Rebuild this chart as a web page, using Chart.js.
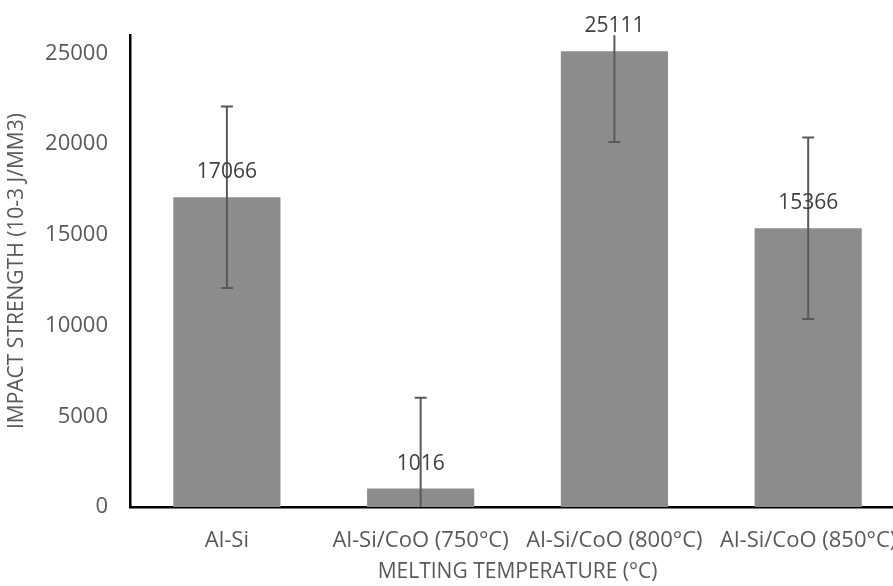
<!DOCTYPE html>
<html>
<head>
<meta charset="utf-8">
<script src="https://cdn.jsdelivr.net/npm/chart.js@4.4.1/dist/chart.umd.min.js"></script>
<style>
  html, body { margin: 0; padding: 0; background: #fff; overflow: hidden; }
  #wrap { width: 918px; height: 586px; }
</style>
</head>
<body>
<div id="wrap"><canvas id="chart"></canvas></div>
<script>
const categories = ["Al-Si", "Al-Si/CoO (750°C)", "Al-Si/CoO (800°C)", "Al-Si/CoO (850°C)"]
const strength = [17066, 1016, 25111, 15366]
const errors = [5000, 5000, 5000, 5000]
const yTicks = [0, 5000, 10000, 15000, 20000, 25000]

const FONT = "'Open Sans', sans-serif"
const TEXT = "#595959"

const errorBars = {
  id: "errorBars",
  afterDatasetsDraw(chart) {
    const { ctx, chartArea, scales } = chart
    const meta = chart.getDatasetMeta(0)
    ctx.save()
    ctx.beginPath()
    ctx.rect(chartArea.left, chartArea.top, chartArea.right - chartArea.left, chartArea.bottom - chartArea.top)
    ctx.clip()
    ctx.strokeStyle = "#595959"
    ctx.lineWidth = 2
    meta.data.forEach((bar, i) => {
      const x = bar.x
      const hi = scales.y.getPixelForValue(strength[i] + errors[i])
      const lo = scales.y.getPixelForValue(strength[i] - errors[i])
      ctx.beginPath()
      ctx.moveTo(x, hi); ctx.lineTo(x, lo)
      ctx.moveTo(x - 6, hi); ctx.lineTo(x + 6, hi)
      ctx.moveTo(x - 6, lo); ctx.lineTo(x + 6, lo)
      ctx.stroke()
    })
    ctx.restore()

    ctx.save()
    ctx.fillStyle = "#404040"
    ctx.font = "21px " + FONT
    ctx.textAlign = "center"
    ctx.textBaseline = "middle"
    meta.data.forEach((bar, i) => {
      ctx.fillText(String(strength[i]), bar.x, bar.y - 25)
    })
    ctx.restore()
  }
}

new Chart(document.getElementById("chart"), {
  type: "bar",
  data: {
    labels: categories,
    datasets: [{
      data: strength,
      backgroundColor: "#8c8c8c",
      categoryPercentage: 1,
      barPercentage: 0.553
    }]
  },
  options: {
    responsive: true,
    maintainAspectRatio: false,
    animation: false,
    layout: { padding: { top: 33, right: 6, left: 0, bottom: 0 } },
    plugins: { legend: { display: false }, tooltip: { enabled: false } },
    scales: {
      x: {
        grid: { display: false, drawTicks: false },
        border: { display: true, color: "#000", width: 2.5 },
        ticks: { color: TEXT, font: { family: FONT, size: 22 }, padding: 21, maxRotation: 0, autoSkip: false },
        title: { display: true, text: "MELTING TEMPERATURE (°C)", color: TEXT, font: { family: FONT, size: 21 }, padding: { top: 0, bottom: 1 } },
        afterFit(scale) { scale.height = 79 }
      },
      y: {
        min: 0,
        max: 26000,
        afterBuildTicks(scale) { scale.ticks = yTicks.map((v) => ({ value: v })) },
        grid: { display: false, drawTicks: false },
        border: { display: true, color: "#000", width: 2.5 },
        ticks: { color: TEXT, font: { family: FONT, size: 22 }, padding: 22, callback: (v) => String(v) },
        title: { display: true, text: "IMPACT STRENGTH (10-3 J/MM3)", color: TEXT, font: { family: FONT, size: 21 }, padding: { top: 4, bottom: 0 } },
        afterFit(scale) { scale.width = 130 }
      }
    }
  },
  plugins: [errorBars]
})
</script>
</body>
</html>
